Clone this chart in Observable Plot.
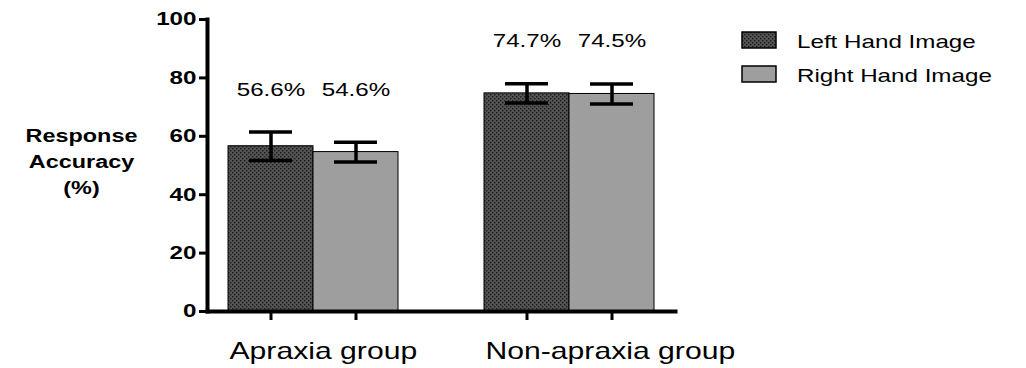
<!DOCTYPE html>
<html>
<head>
<meta charset="utf-8">
<script src="https://cdn.jsdelivr.net/npm/d3@7"></script>
<script src="https://cdn.jsdelivr.net/npm/@observablehq/plot@0.6"></script>
<style>
  html, body { margin: 0; padding: 0; background: #fff; }
</style>
</head>
<body>
<div id="chart"></div>
<script>
// ---- data ----
const groups = ["Apraxia group", "Non-apraxia group"];
const hands = ["Left Hand Image", "Right Hand Image"];
const means = [[56.6, 54.6], [74.7, 74.5]];   // [group][hand]
const errors = [[4.9, 3.4], [3.3, 3.4]];     // [group][hand]
const yTicks = [0, 20, 40, 60, 80, 100];
const yTitle = "Response\nAccuracy\n(%)";

const data = [];
groups.forEach((g, gi) => hands.forEach((h, hi) => data.push({group: g, hand: h, mean: means[gi][hi], err: errors[gi][hi]})));
const groupTop = new Map(groups.map((g, gi) => [g, d3.max(means[gi].map((m, hi) => m + errors[gi][hi]))]));

const FONT = "'Liberation Sans', Arial, sans-serif";
const chart = Plot.plot({
  width: 1026, height: 368,
  marginLeft: 207, marginRight: 351, marginTop: 19, marginBottom: 57,
  style: {fontFamily: FONT, color: "#000", background: "#fff", overflow: "visible"},
  fx: {domain: groups, paddingInner: 0.172, paddingOuter: 0, axis: null, label: null},
  x: {domain: hands, paddingInner: 0, paddingOuter: 0.2326, axis: null, label: null},
  y: {domain: [0, 100], axis: null, label: null},
  color: {domain: hands, range: ["url(#dots)", "#9e9e9e"]},
  marks: [
    Plot.barY(data, {fx: "group", x: "hand", y: "mean", fill: "hand", stroke: "#000", strokeWidth: 1}),
    Plot.ruleX(data, {fx: "group", x: "hand", y1: d => d.mean - d.err, y2: d => d.mean + d.err, stroke: "#000", strokeWidth: 3.5}),
    Plot.tickY(data, {fx: "group", x: "hand", y: d => d.mean - d.err, insetLeft: 21, insetRight: 21, stroke: "#000", strokeWidth: 3.5}),
    Plot.tickY(data, {fx: "group", x: "hand", y: d => d.mean + d.err, insetLeft: 21, insetRight: 21, stroke: "#000", strokeWidth: 3.5}),
    Plot.text(data, {fx: "group", x: "hand", y: d => groupTop.get(d.group) + 14.5, text: d => d.mean.toFixed(1) + "%", fontSize: 18.6, fill: "#000"}),
    Plot.axisX({tickSize: 9, strokeWidth: 3, tickFormat: () => "", label: null}),
    Plot.text(groups, {fx: d => d, text: d => d, frameAnchor: "bottom-left", textAnchor: "start", lineAnchor: "top", dx: 22, dy: 30.7, fontSize: 23.2, fill: "#000"}),
    Plot.axisY({ticks: yTicks, tickSize: 8, strokeWidth: 3, tickPadding: 3, fontSize: 18.6, fontWeight: "bold", label: null}),
    Plot.frame({anchor: "left", facet: "super", stroke: "#000", strokeWidth: 4}),
    Plot.frame({anchor: "bottom", facet: "super", stroke: "#000", strokeWidth: 4}),
    Plot.text([yTitle], {facet: "super", frameAnchor: "left", text: d => d, dx: -126, dy: -6, fontSize: 18, fontWeight: "bold", lineHeight: 1.47, textAnchor: "middle", fill: "#000"})
  ]
});
document.getElementById("chart").appendChild(chart);

// pattern for the dotted dark bars
const svg = d3.select(chart);
const defs = svg.insert("defs", ":first-child");
const pat = defs.append("pattern").attr("id", "dots").attr("patternUnits", "userSpaceOnUse").attr("width", 4).attr("height", 4);
pat.append("rect").attr("width", 4).attr("height", 4).attr("fill", "#545454");
pat.append("rect").attr("x", 0).attr("y", 0).attr("width", 1.4).attr("height", 1.4).attr("fill", "#1a1a1a");
pat.append("rect").attr("x", 2).attr("y", 2).attr("width", 1.4).attr("height", 1.4).attr("fill", "#1a1a1a");

// legend
const color = chart.scale("color");
const lg = svg.append("g").attr("font-family", FONT).attr("font-size", 18.6).attr("text-anchor", "start");
hands.forEach((h, i) => {
  const g = lg.append("g").attr("transform", `translate(742,${32 + i * 34})`);
  g.append("rect").attr("width", 34).attr("height", 16).attr("fill", color.apply(h)).attr("stroke", "#000").attr("stroke-width", 1.5);
  g.append("text").attr("x", 55).attr("y", 16.3).attr("fill", "#000").attr("text-anchor", "start").text(h);
});

// the reference's text is horizontally stretched
const S = 1.3;
chart.querySelectorAll("text").forEach(t => {
  const spans = t.querySelectorAll("tspan");
  const els = spans.length ? [...spans] : [t];
  els.forEach(e => {
    const w = e.getComputedTextLength();
    if (w > 0) { e.setAttribute("textLength", w * S); e.setAttribute("lengthAdjust", "spacingAndGlyphs"); }
  });
});
</script>
</body>
</html>
